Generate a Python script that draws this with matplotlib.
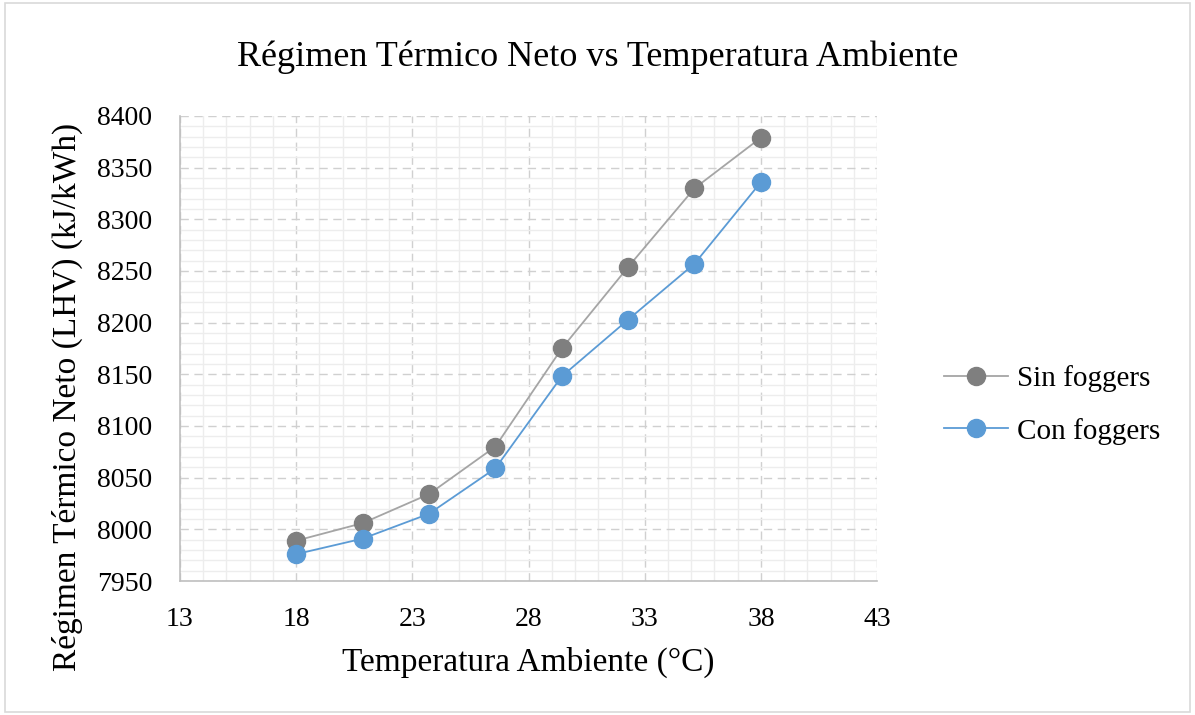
import matplotlib
matplotlib.use("Agg")
import matplotlib.pyplot as plt
from matplotlib.ticker import MultipleLocator
from matplotlib.patches import Rectangle

temperatura = [18.0, 20.86, 23.71, 26.57, 29.43, 32.29, 35.14, 38.0]
sin_foggers = [7989, 8006, 8034, 8080, 8175, 8254, 8330, 8379]
con_foggers = [7976, 7991, 8015, 8059, 8148, 8203, 8257, 8336]
x_ticks = [13, 18, 23, 28, 33, 38, 43]

plt.rcParams["font.family"] = ["Liberation Serif", "DejaVu Serif"]

fig = plt.figure(figsize=(11.95, 7.15), dpi=100)
fig.patches.append(Rectangle((0.004, 0.004), 0.992, 0.992, transform=fig.transFigure,
                             fill=False, edgecolor="#D9D9D9", linewidth=1.2))
ax = fig.add_axes([0.1506, 0.1874, 0.5834, 0.6504])

ax.plot(temperatura, sin_foggers, color="#A5A5A5", linewidth=1.3, marker="o",
        markersize=13, markerfacecolor="#7F7F7F", markeredgecolor="#7F7F7F",
        label="Sin foggers", zorder=3)
ax.plot(temperatura, con_foggers, color="#5B9BD5", linewidth=1.3, marker="o",
        markersize=13, markerfacecolor="#5B9BD5", markeredgecolor="#5B9BD5",
        label="Con foggers", zorder=3)

ax.set_xlim(13, 43)
ax.set_ylim(7950, 8400)
ax.set_xticks(x_ticks)
ax.xaxis.set_minor_locator(MultipleLocator(1))
ax.yaxis.set_major_locator(MultipleLocator(50))
ax.yaxis.set_minor_locator(MultipleLocator(10))
ax.grid(which="minor", color="#EDEDED", linewidth=1.0, linestyle="-")
ax.grid(which="major", color="#D0D0D0", linewidth=1.0, linestyle=(0, (6, 4)))
ax.set_axisbelow(True)
ax.tick_params(which="both", length=0, labelsize=20)
ax.tick_params(axis="y", pad=20)
ax.tick_params(axis="x", pad=19)

for side in ("top", "right"):
    ax.spines[side].set_visible(False)
for side in ("left", "bottom"):
    ax.spines[side].set_color("#BFBFBF")
    ax.spines[side].set_linewidth(1.2)

ax.set_xlabel("Temperatura Ambiente (°C)", fontsize=24, labelpad=10)
ax.set_ylabel("Régimen Térmico Neto (LHV) (kJ/kWh)", fontsize=24)
ax.yaxis.set_label_coords(-0.139, 0.396)
fig.text(0.5, 0.92, "Régimen Térmico Neto vs Temperatura Ambiente",
         ha="center", va="center", fontsize=26)

fig.legend(loc="center left", bbox_to_anchor=(0.768, 0.434), frameon=False,
           fontsize=21, handlelength=2.2, labelspacing=0.89, handletextpad=0.3)

fig.savefig("out.png", dpi=100)
